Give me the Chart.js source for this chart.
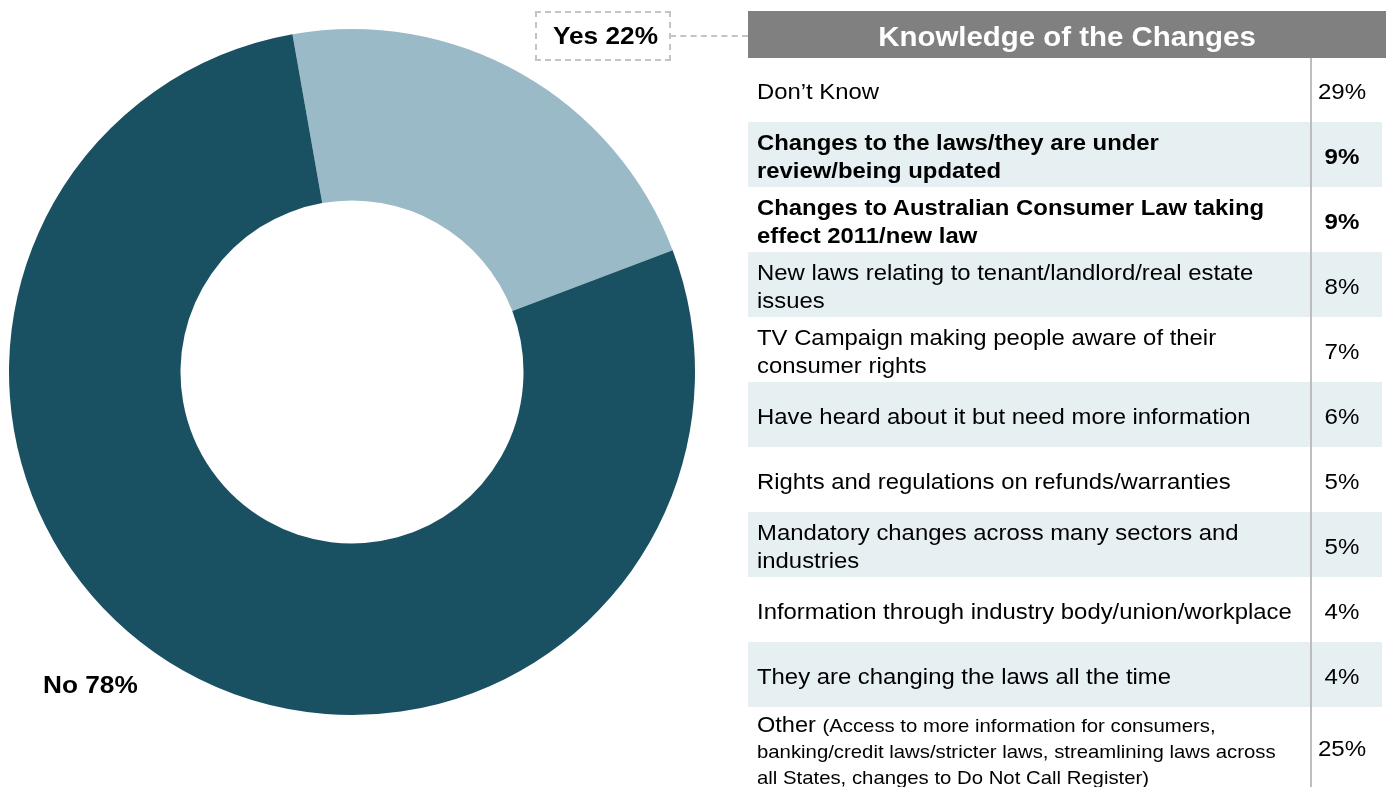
<!DOCTYPE html>
<html>
<head>
<meta charset="utf-8">
<script src="https://cdn.jsdelivr.net/npm/chart.js@4.4.1/dist/chart.umd.min.js"></script>
<style>
  html, body { margin: 0; padding: 0; background: #fff; }
  body { width: 1386px; height: 787px; position: relative; overflow: hidden; font-family: "Liberation Sans", Arial, sans-serif; }
  #wrap { position: absolute; left: 0; top: 0; width: 1386px; height: 787px; }
  .lbl { position: absolute; font-weight: bold; font-size: 24.5px; line-height: 28px; color: #000; white-space: nowrap; transform: scaleX(1.07); transform-origin: left center; }
  #yesBox { position: absolute; left: 535px; top: 11px; width: 132px; height: 46px; border: 2px dashed #c4c4c4; }
  #yesLine { position: absolute; left: 670px; top: 35px; width: 78px; height: 0; border-top: 2px dashed #c4c4c4; }
  #header { position: absolute; left: 748px; top: 11px; width: 638px; height: 47px; background: #808080; }
  #header span { position: absolute; left: 0; right: 0; top: 0; color: #fff; font-weight: bold; font-size: 27.5px; text-align: center; line-height: 51px; transform: scaleX(1.07); transform-origin: center; white-space: nowrap; }
  .row { position: absolute; left: 748px; width: 634px; }
  .row.shade { background: #e6eff2; }
  .row .txt { position: absolute; left: 9px; top: 50%; transform: translateY(-50%) scaleX(1.085); transform-origin: left center; font-size: 22px; line-height: 28px; color: #000; white-space: pre; }
  .row .pct { position: absolute; left: 570px; width: 48px; text-align: center; top: 50%; transform: translateY(-50%) scaleX(1.07); transform-origin: center; font-size: 22.5px; color: #000; }
  .row.bold .txt, .row.bold .pct { font-weight: bold; }
  .row.other .txt { line-height: 25px; transform: translateY(-50%) scaleX(1.07); }
  .small { font-size: 19px; }
  #divider { position: absolute; left: 1310px; top: 58px; width: 2px; height: 729px; background: #bdbdbd; }
</style>
</head>
<body>
<div id="wrap"><canvas id="c" width="1386" height="787"></canvas></div>
<div id="yesBox"></div>
<div id="yesLine"></div>
<div class="lbl" id="yesLbl" style="left:553px; top:22px;"></div>
<div class="lbl" id="noLbl" style="left:43px; top:671px;"></div>
<div id="header"><span id="title"></span></div>
<div id="table"></div>
<div id="divider"></div>
<script>
// ---- data ----
const pieLabels = ["Yes", "No"];
const pieValues = [22, 78];
const pieColors = ["#9bbac7", "#195163"];

const tableTitle = "Knowledge of the Changes";
const rowLabels = [
  "Don\u2019t Know",
  "Changes to the laws/they are under\nreview/being updated",
  "Changes to Australian Consumer Law taking\neffect 2011/new law",
  "New laws relating to tenant/landlord/real estate\nissues",
  "TV Campaign making people aware of their\nconsumer rights",
  "Have heard about it but need more information",
  "Rights and regulations on refunds/warranties",
  "Mandatory changes across many sectors and\nindustries",
  "Information through industry body/union/workplace",
  "They are changing the laws all the time",
  "Other"
];
const otherDetail = "(Access to more information for consumers,\nbanking/credit laws/stricter laws, streamlining laws across\nall States, changes to Do Not Call Register)";
const rowValues = [29, 9, 9, 8, 7, 6, 5, 5, 4, 4, 25];
const boldRows = [1, 2];

// ---- labels ----
document.getElementById("yesLbl").textContent = pieLabels[0] + " " + pieValues[0] + "%";
document.getElementById("noLbl").textContent = pieLabels[1] + " " + pieValues[1] + "%";
document.getElementById("title").textContent = tableTitle;

// ---- table ----
const table = document.getElementById("table");
let y = 58;
rowLabels.forEach((lab, i) => {
  const last = i === rowLabels.length - 1;
  const h = i === 0 ? 64 : (last ? 787 - y : 65);
  const r = document.createElement("div");
  r.className = "row" + (i % 2 === 1 ? " shade" : "") + (boldRows.includes(i) ? " bold" : "") + (last ? " other" : "");
  r.style.top = y + "px";
  r.style.height = h + "px";
  const t = document.createElement("div");
  t.className = "txt";
  if (last) {
    t.appendChild(document.createTextNode(lab + " "));
    const s = document.createElement("span");
    s.className = "small";
    s.textContent = otherDetail;
    t.appendChild(s);
    t.style.top = "calc(50% + 4px)";
  } else {
    t.textContent = lab;
    t.style.top = "calc(50% + 2px)";
  }
  const p = document.createElement("div");
  p.className = "pct";
  p.textContent = rowValues[i] + "%";
  p.style.top = "calc(50% + 2px)";
  r.appendChild(t);
  r.appendChild(p);
  table.appendChild(r);
  y += h;
});

// ---- doughnut ----
new Chart(document.getElementById("c"), {
  type: "doughnut",
  data: {
    labels: pieLabels,
    datasets: [{
      data: pieValues,
      backgroundColor: pieColors,
      borderWidth: 0
    }]
  },
  options: {
    responsive: false,
    animation: false,
    cutout: "50%",
    rotation: -10,
    layout: { padding: { left: 9, top: 29, right: 1386 - 695, bottom: 787 - 715 } },
    plugins: { legend: { display: false }, tooltip: { enabled: false } }
  }
});
</script>
</body>
</html>
